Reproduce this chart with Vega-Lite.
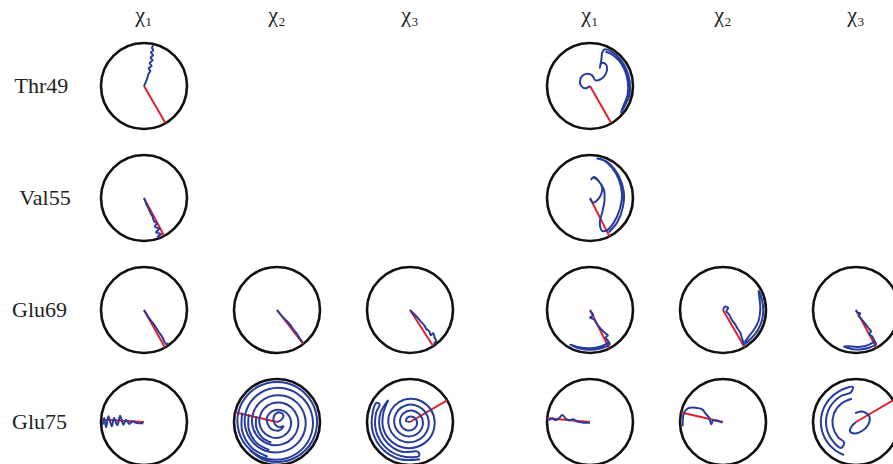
{
"$schema":"https://vega.github.io/schema/vega-lite/v6.json",
"padding":{"left":12,"top":4,"right":0,"bottom":0},
"background":"white",
"config":{"view":{"stroke":null},"header":{"labelFont":"Liberation Serif","labelFontSize":22,"labelColor":"#222"}},
"data":{"values":[
{"sim":"A","res":"Thr49","chi":"χ₁","kind":"ring"},
{"sim":"A","res":"Thr49","chi":"χ₂","kind":"none"},
{"sim":"A","res":"Thr49","chi":"χ₃","kind":"none"},
{"sim":"A","res":"Val55","chi":"χ₂","kind":"none"},
{"sim":"A","res":"Val55","chi":"χ₃","kind":"none"},
{"sim":"B","res":"Thr49","chi":"χ₂","kind":"none"},
{"sim":"B","res":"Thr49","chi":"χ₃","kind":"none"},
{"sim":"B","res":"Val55","chi":"χ₂","kind":"none"},
{"sim":"B","res":"Val55","chi":"χ₃","kind":"none"},
{"sim":"A","res":"Thr49","chi":"χ₁","kind":"ref","i":0,"x":0,"y":0},
{"sim":"A","res":"Thr49","chi":"χ₁","kind":"ref","i":1,"x":0.5,"y":-0.866},
{"sim":"A","res":"Thr49","chi":"χ₁","kind":"traj","seg":0,"i":0,"x":0,"y":0},
{"sim":"A","res":"Thr49","chi":"χ₁","kind":"traj","seg":0,"i":1,"x":0.047,"y":0.1},
{"sim":"A","res":"Thr49","chi":"χ₁","kind":"traj","seg":0,"i":2,"x":0.078,"y":0.19},
{"sim":"A","res":"Thr49","chi":"χ₁","kind":"traj","seg":0,"i":3,"x":0.109,"y":0.29},
{"sim":"A","res":"Thr49","chi":"χ₁","kind":"traj","seg":0,"i":4,"x":0.147,"y":0.35},
{"sim":"A","res":"Thr49","chi":"χ₁","kind":"traj","seg":0,"i":5,"x":0.109,"y":0.41},
{"sim":"A","res":"Thr49","chi":"χ₁","kind":"traj","seg":0,"i":6,"x":0.178,"y":0.47},
{"sim":"A","res":"Thr49","chi":"χ₁","kind":"traj","seg":0,"i":7,"x":0.132,"y":0.535},
{"sim":"A","res":"Thr49","chi":"χ₁","kind":"traj","seg":0,"i":8,"x":0.2,"y":0.6},
{"sim":"A","res":"Thr49","chi":"χ₁","kind":"traj","seg":0,"i":9,"x":0.155,"y":0.66},
{"sim":"A","res":"Thr49","chi":"χ₁","kind":"traj","seg":0,"i":10,"x":0.21,"y":0.72},
{"sim":"A","res":"Thr49","chi":"χ₁","kind":"traj","seg":0,"i":11,"x":0.163,"y":0.78},
{"sim":"A","res":"Thr49","chi":"χ₁","kind":"traj","seg":0,"i":12,"x":0.217,"y":0.84},
{"sim":"A","res":"Thr49","chi":"χ₁","kind":"traj","seg":0,"i":13,"x":0.186,"y":0.89},
{"sim":"A","res":"Thr49","chi":"χ₁","kind":"traj","seg":0,"i":14,"x":0.217,"y":0.945},

{"sim":"A","res":"Val55","chi":"χ₁","kind":"ring"},
{"sim":"A","res":"Val55","chi":"χ₁","kind":"ref","i":0,"x":0,"y":0},
{"sim":"A","res":"Val55","chi":"χ₁","kind":"ref","i":1,"x":0.47,"y":-0.88},
{"sim":"A","res":"Val55","chi":"χ₁","kind":"traj","seg":0,"i":0,"x":0,"y":0},
{"sim":"A","res":"Val55","chi":"χ₁","kind":"traj","seg":0,"i":1,"x":0.054,"y":-0.14},
{"sim":"A","res":"Val55","chi":"χ₁","kind":"traj","seg":0,"i":2,"x":0.109,"y":-0.256},
{"sim":"A","res":"Val55","chi":"χ₁","kind":"traj","seg":0,"i":3,"x":0.155,"y":-0.357},
{"sim":"A","res":"Val55","chi":"χ₁","kind":"traj","seg":0,"i":4,"x":0.2,"y":-0.434},
{"sim":"A","res":"Val55","chi":"χ₁","kind":"traj","seg":0,"i":5,"x":0.233,"y":-0.54},
{"sim":"A","res":"Val55","chi":"χ₁","kind":"traj","seg":0,"i":6,"x":0.295,"y":-0.59},
{"sim":"A","res":"Val55","chi":"χ₁","kind":"traj","seg":0,"i":7,"x":0.256,"y":-0.67},
{"sim":"A","res":"Val55","chi":"χ₁","kind":"traj","seg":0,"i":8,"x":0.357,"y":-0.72},
{"sim":"A","res":"Val55","chi":"χ₁","kind":"traj","seg":0,"i":9,"x":0.279,"y":-0.8},
{"sim":"A","res":"Val55","chi":"χ₁","kind":"traj","seg":0,"i":10,"x":0.4,"y":-0.845},
{"sim":"A","res":"Val55","chi":"χ₁","kind":"traj","seg":0,"i":11,"x":0.318,"y":-0.9},
{"sim":"A","res":"Val55","chi":"χ₁","kind":"traj","seg":0,"i":12,"x":0.37,"y":-0.9},

{"sim":"A","res":"Glu69","chi":"χ₁","kind":"ring"},
{"sim":"A","res":"Glu69","chi":"χ₁","kind":"ref","i":0,"x":0,"y":0},
{"sim":"A","res":"Glu69","chi":"χ₁","kind":"ref","i":1,"x":0.49,"y":-0.876},
{"sim":"A","res":"Glu69","chi":"χ₁","kind":"traj","seg":0,"i":0,"x":0,"y":0},
{"sim":"A","res":"Glu69","chi":"χ₁","kind":"traj","seg":0,"i":1,"x":0.14,"y":-0.217},
{"sim":"A","res":"Glu69","chi":"χ₁","kind":"traj","seg":0,"i":2,"x":0.256,"y":-0.372},
{"sim":"A","res":"Glu69","chi":"χ₁","kind":"traj","seg":0,"i":3,"x":0.333,"y":-0.496},
{"sim":"A","res":"Glu69","chi":"χ₁","kind":"traj","seg":0,"i":4,"x":0.388,"y":-0.574},
{"sim":"A","res":"Glu69","chi":"χ₁","kind":"traj","seg":0,"i":5,"x":0.434,"y":-0.643},
{"sim":"A","res":"Glu69","chi":"χ₁","kind":"traj","seg":0,"i":6,"x":0.48,"y":-0.744},
{"sim":"A","res":"Glu69","chi":"χ₁","kind":"traj","seg":0,"i":7,"x":0.527,"y":-0.798},
{"sim":"A","res":"Glu69","chi":"χ₁","kind":"traj","seg":0,"i":8,"x":0.574,"y":-0.775},

{"sim":"A","res":"Glu69","chi":"χ₂","kind":"ring"},
{"sim":"A","res":"Glu69","chi":"χ₂","kind":"ref","i":0,"x":0,"y":0},
{"sim":"A","res":"Glu69","chi":"χ₂","kind":"ref","i":1,"x":0.61,"y":-0.79},
{"sim":"A","res":"Glu69","chi":"χ₂","kind":"traj","seg":0,"i":0,"x":0,"y":0},
{"sim":"A","res":"Glu69","chi":"χ₂","kind":"traj","seg":0,"i":1,"x":0.147,"y":-0.178},
{"sim":"A","res":"Glu69","chi":"χ₂","kind":"traj","seg":0,"i":2,"x":0.302,"y":-0.333},
{"sim":"A","res":"Glu69","chi":"χ₂","kind":"traj","seg":0,"i":3,"x":0.38,"y":-0.45},
{"sim":"A","res":"Glu69","chi":"χ₂","kind":"traj","seg":0,"i":4,"x":0.473,"y":-0.566},
{"sim":"A","res":"Glu69","chi":"χ₂","kind":"traj","seg":0,"i":5,"x":0.535,"y":-0.667},
{"sim":"A","res":"Glu69","chi":"χ₂","kind":"traj","seg":0,"i":6,"x":0.59,"y":-0.75},

{"sim":"A","res":"Glu69","chi":"χ₃","kind":"ring"},
{"sim":"A","res":"Glu69","chi":"χ₃","kind":"ref","i":0,"x":0,"y":0},
{"sim":"A","res":"Glu69","chi":"χ₃","kind":"ref","i":1,"x":0.54,"y":-0.84},
{"sim":"A","res":"Glu69","chi":"χ₃","kind":"traj","seg":0,"i":0,"x":0,"y":0},
{"sim":"A","res":"Glu69","chi":"χ₃","kind":"traj","seg":0,"i":1,"x":0.14,"y":-0.14},
{"sim":"A","res":"Glu69","chi":"χ₃","kind":"traj","seg":0,"i":2,"x":0.248,"y":-0.264},
{"sim":"A","res":"Glu69","chi":"χ₃","kind":"traj","seg":0,"i":3,"x":0.333,"y":-0.357},
{"sim":"A","res":"Glu69","chi":"χ₃","kind":"traj","seg":0,"i":4,"x":0.388,"y":-0.45},
{"sim":"A","res":"Glu69","chi":"χ₃","kind":"traj","seg":0,"i":5,"x":0.45,"y":-0.496},
{"sim":"A","res":"Glu69","chi":"χ₃","kind":"traj","seg":0,"i":6,"x":0.48,"y":-0.59},
{"sim":"A","res":"Glu69","chi":"χ₃","kind":"traj","seg":0,"i":7,"x":0.543,"y":-0.543},
{"sim":"A","res":"Glu69","chi":"χ₃","kind":"traj","seg":0,"i":8,"x":0.574,"y":-0.643},
{"sim":"A","res":"Glu69","chi":"χ₃","kind":"traj","seg":0,"i":9,"x":0.61,"y":-0.72},
{"sim":"A","res":"Glu69","chi":"χ₃","kind":"traj","seg":0,"i":10,"x":0.55,"y":-0.78},

{"sim":"A","res":"Glu75","chi":"χ₁","kind":"ring"},
{"sim":"A","res":"Glu75","chi":"χ₁","kind":"ref","i":0,"x":0,"y":0},
{"sim":"A","res":"Glu75","chi":"χ₁","kind":"ref","i":1,"x":-0.985,"y":0.06},
{"sim":"A","res":"Glu75","chi":"χ₁","kind":"traj","seg":0,"i":0,"x":-0.016,"y":-0.031},
{"sim":"A","res":"Glu75","chi":"χ₁","kind":"traj","seg":0,"i":1,"x":-0.17,"y":-0.023},
{"sim":"A","res":"Glu75","chi":"χ₁","kind":"traj","seg":0,"i":2,"x":-0.264,"y":0.016},
{"sim":"A","res":"Glu75","chi":"χ₁","kind":"traj","seg":0,"i":3,"x":-0.341,"y":-0.047},
{"sim":"A","res":"Glu75","chi":"χ₁","kind":"traj","seg":0,"i":4,"x":-0.419,"y":0.054},
{"sim":"A","res":"Glu75","chi":"χ₁","kind":"traj","seg":0,"i":5,"x":-0.48,"y":-0.062},
{"sim":"A","res":"Glu75","chi":"χ₁","kind":"traj","seg":0,"i":6,"x":-0.558,"y":0.147},
{"sim":"A","res":"Glu75","chi":"χ₁","kind":"traj","seg":0,"i":7,"x":-0.62,"y":-0.078},
{"sim":"A","res":"Glu75","chi":"χ₁","kind":"traj","seg":0,"i":8,"x":-0.698,"y":0.093},
{"sim":"A","res":"Glu75","chi":"χ₁","kind":"traj","seg":0,"i":9,"x":-0.752,"y":-0.1},
{"sim":"A","res":"Glu75","chi":"χ₁","kind":"traj","seg":0,"i":10,"x":-0.83,"y":0.132},
{"sim":"A","res":"Glu75","chi":"χ₁","kind":"traj","seg":0,"i":11,"x":-0.884,"y":-0.124},
{"sim":"A","res":"Glu75","chi":"χ₁","kind":"traj","seg":0,"i":12,"x":-0.93,"y":0.093},
{"sim":"A","res":"Glu75","chi":"χ₁","kind":"traj","seg":0,"i":13,"x":-0.96,"y":-0.062},

{"sim":"A","res":"Glu75","chi":"χ₂","kind":"ring"},
{"sim":"A","res":"Glu75","chi":"χ₂","kind":"ref","i":0,"x":0,"y":0},
{"sim":"A","res":"Glu75","chi":"χ₂","kind":"ref","i":1,"x":-0.974,"y":0.225},
{"sim":"A","res":"Glu75","chi":"χ₂","kind":"traj","seg":0,"i":0,"x":0,"y":0},
{"sim":"A","res":"Glu75","chi":"χ₂","kind":"traj","seg":0,"i":1,"x":0.1,"y":0.05},
{"sim":"A","res":"Glu75","chi":"χ₂","kind":"traj","seg":0,"i":2,"x":0.15,"y":0.15},
{"sim":"A","res":"Glu75","chi":"χ₂","kind":"traj","seg":0,"i":3,"x":0.08,"y":0.22},
{"sim":"A","res":"Glu75","chi":"χ₂","kind":"traj","seg":0,"i":4,"x":-0.02,"y":0.2},
{"sim":"A","res":"Glu75","chi":"χ₂","kind":"traj","seg":0,"i":5,"x":-0.08,"y":0.1},
{"sim":"A","res":"Glu75","chi":"χ₂","kind":"traj","seg":0,"i":6,"x":-0.05,"y":-0.05},
{"sim":"A","res":"Glu75","chi":"χ₂","kind":"traj","seg":0,"i":7,"x":0.05,"y":-0.12},
{"sim":"A","res":"Glu75","chi":"χ₂","kind":"traj","seg":0,"i":8,"x":0.15,"y":-0.1},
{"sim":"A","res":"Glu75","chi":"χ₂","kind":"traj","seg":0,"i":9,"x":0.05,"y":-0.2},
{"sim":"A","res":"Glu75","chi":"χ₂","kind":"traj","seg":0,"i":10,"x":-0.15,"y":-0.15},
{"sim":"A","res":"Glu75","chi":"χ₂","kind":"traj","seg":0,"i":11,"x":-0.242,"y":0.065},
{"sim":"A","res":"Glu75","chi":"χ₂","kind":"traj","seg":0,"i":12,"x":-0.187,"y":0.187},
{"sim":"A","res":"Glu75","chi":"χ₂","kind":"traj","seg":0,"i":13,"x":-0.072,"y":0.269},
{"sim":"A","res":"Glu75","chi":"χ₂","kind":"traj","seg":0,"i":14,"x":0.076,"y":0.283},
{"sim":"A","res":"Glu75","chi":"χ₂","kind":"traj","seg":0,"i":15,"x":0.217,"y":0.217},
{"sim":"A","res":"Glu75","chi":"χ₂","kind":"traj","seg":0,"i":16,"x":0.31,"y":0.083},
{"sim":"A","res":"Glu75","chi":"χ₂","kind":"traj","seg":0,"i":17,"x":0.324,"y":-0.087},
{"sim":"A","res":"Glu75","chi":"χ₂","kind":"traj","seg":0,"i":18,"x":0.247,"y":-0.247},
{"sim":"A","res":"Glu75","chi":"χ₂","kind":"traj","seg":0,"i":19,"x":0.094,"y":-0.352},
{"sim":"A","res":"Glu75","chi":"χ₂","kind":"traj","seg":0,"i":20,"x":-0.098,"y":-0.365},
{"sim":"A","res":"Glu75","chi":"χ₂","kind":"traj","seg":0,"i":21,"x":-0.277,"y":-0.277},
{"sim":"A","res":"Glu75","chi":"χ₂","kind":"traj","seg":0,"i":22,"x":-0.392,"y":-0.105},
{"sim":"A","res":"Glu75","chi":"χ₂","kind":"traj","seg":0,"i":23,"x":-0.406,"y":0.109},
{"sim":"A","res":"Glu75","chi":"χ₂","kind":"traj","seg":0,"i":24,"x":-0.308,"y":0.308},
{"sim":"A","res":"Glu75","chi":"χ₂","kind":"traj","seg":0,"i":25,"x":-0.116,"y":0.434},
{"sim":"A","res":"Glu75","chi":"χ₂","kind":"traj","seg":0,"i":26,"x":0.12,"y":0.447},
{"sim":"A","res":"Glu75","chi":"χ₂","kind":"traj","seg":0,"i":27,"x":0.337,"y":0.337},
{"sim":"A","res":"Glu75","chi":"χ₂","kind":"traj","seg":0,"i":28,"x":0.474,"y":0.127},
{"sim":"A","res":"Glu75","chi":"χ₂","kind":"traj","seg":0,"i":29,"x":0.489,"y":-0.131},
{"sim":"A","res":"Glu75","chi":"χ₂","kind":"traj","seg":0,"i":30,"x":0.368,"y":-0.368},
{"sim":"A","res":"Glu75","chi":"χ₂","kind":"traj","seg":0,"i":31,"x":0.138,"y":-0.516},
{"sim":"A","res":"Glu75","chi":"χ₂","kind":"traj","seg":0,"i":32,"x":-0.142,"y":-0.529},
{"sim":"A","res":"Glu75","chi":"χ₂","kind":"traj","seg":0,"i":33,"x":-0.397,"y":-0.397},
{"sim":"A","res":"Glu75","chi":"χ₂","kind":"traj","seg":0,"i":34,"x":-0.557,"y":-0.149},
{"sim":"A","res":"Glu75","chi":"χ₂","kind":"traj","seg":0,"i":35,"x":-0.571,"y":0.153},
{"sim":"A","res":"Glu75","chi":"χ₂","kind":"traj","seg":0,"i":36,"x":-0.428,"y":0.428},
{"sim":"A","res":"Glu75","chi":"χ₂","kind":"traj","seg":0,"i":37,"x":-0.16,"y":0.598},
{"sim":"A","res":"Glu75","chi":"χ₂","kind":"traj","seg":0,"i":38,"x":0.164,"y":0.611},
{"sim":"A","res":"Glu75","chi":"χ₂","kind":"traj","seg":0,"i":39,"x":0.458,"y":0.458},
{"sim":"A","res":"Glu75","chi":"χ₂","kind":"traj","seg":0,"i":40,"x":0.639,"y":0.171},
{"sim":"A","res":"Glu75","chi":"χ₂","kind":"traj","seg":0,"i":41,"x":0.653,"y":-0.175},
{"sim":"A","res":"Glu75","chi":"χ₂","kind":"traj","seg":0,"i":42,"x":0.488,"y":-0.488},
{"sim":"A","res":"Glu75","chi":"χ₂","kind":"traj","seg":0,"i":43,"x":0.182,"y":-0.68},
{"sim":"A","res":"Glu75","chi":"χ₂","kind":"traj","seg":0,"i":44,"x":-0.186,"y":-0.695},
{"sim":"A","res":"Glu75","chi":"χ₂","kind":"traj","seg":0,"i":45,"x":-0.518,"y":-0.518},
{"sim":"A","res":"Glu75","chi":"χ₂","kind":"traj","seg":0,"i":46,"x":-0.722,"y":-0.193},
{"sim":"A","res":"Glu75","chi":"χ₂","kind":"traj","seg":0,"i":47,"x":-0.735,"y":0.197},
{"sim":"A","res":"Glu75","chi":"χ₂","kind":"traj","seg":0,"i":48,"x":-0.548,"y":0.548},
{"sim":"A","res":"Glu75","chi":"χ₂","kind":"traj","seg":0,"i":49,"x":-0.205,"y":0.763},
{"sim":"A","res":"Glu75","chi":"χ₂","kind":"traj","seg":0,"i":50,"x":0.208,"y":0.777},
{"sim":"A","res":"Glu75","chi":"χ₂","kind":"traj","seg":0,"i":51,"x":0.578,"y":0.578},
{"sim":"A","res":"Glu75","chi":"χ₂","kind":"traj","seg":0,"i":52,"x":0.804,"y":0.215},
{"sim":"A","res":"Glu75","chi":"χ₂","kind":"traj","seg":0,"i":53,"x":0.817,"y":-0.219},
{"sim":"A","res":"Glu75","chi":"χ₂","kind":"traj","seg":0,"i":54,"x":0.609,"y":-0.609},
{"sim":"A","res":"Glu75","chi":"χ₂","kind":"traj","seg":0,"i":55,"x":0.227,"y":-0.845},
{"sim":"A","res":"Glu75","chi":"χ₂","kind":"traj","seg":0,"i":56,"x":-0.23,"y":-0.859},
{"sim":"A","res":"Glu75","chi":"χ₂","kind":"traj","seg":0,"i":57,"x":-0.638,"y":-0.638},
{"sim":"A","res":"Glu75","chi":"χ₂","kind":"traj","seg":0,"i":58,"x":-0.886,"y":-0.238},
{"sim":"A","res":"Glu75","chi":"χ₂","kind":"traj","seg":0,"i":59,"x":-0.898,"y":0.241},
{"sim":"A","res":"Glu75","chi":"χ₂","kind":"traj","seg":0,"i":60,"x":-0.66,"y":0.66},
{"sim":"A","res":"Glu75","chi":"χ₂","kind":"traj","seg":0,"i":61,"x":-0.242,"y":0.903},
{"sim":"A","res":"Glu75","chi":"χ₂","kind":"traj","seg":0,"i":62,"x":0.242,"y":0.903},
{"sim":"A","res":"Glu75","chi":"χ₂","kind":"traj","seg":0,"i":63,"x":0.661,"y":0.661},
{"sim":"A","res":"Glu75","chi":"χ₂","kind":"traj","seg":0,"i":64,"x":0.903,"y":0.242},
{"sim":"A","res":"Glu75","chi":"χ₂","kind":"traj","seg":0,"i":65,"x":0.903,"y":-0.242},
{"sim":"A","res":"Glu75","chi":"χ₂","kind":"traj","seg":0,"i":66,"x":0.661,"y":-0.661},
{"sim":"A","res":"Glu75","chi":"χ₂","kind":"traj","seg":0,"i":67,"x":0.242,"y":-0.903},
{"sim":"A","res":"Glu75","chi":"χ₂","kind":"traj","seg":0,"i":68,"x":-0.242,"y":-0.903},
{"sim":"A","res":"Glu75","chi":"χ₂","kind":"traj","seg":0,"i":69,"x":-0.64,"y":-0.66},
{"sim":"A","res":"Glu75","chi":"χ₂","kind":"traj","seg":1,"i":0,"x":-0.483,"y":0.13},
{"sim":"A","res":"Glu75","chi":"χ₂","kind":"traj","seg":1,"i":1,"x":-0.483,"y":-0.13},
{"sim":"A","res":"Glu75","chi":"χ₂","kind":"traj","seg":1,"i":2,"x":-0.354,"y":-0.354},
{"sim":"A","res":"Glu75","chi":"χ₂","kind":"traj","seg":1,"i":3,"x":-0.13,"y":-0.483},
{"sim":"A","res":"Glu75","chi":"χ₂","kind":"traj","seg":2,"i":0,"x":-0.657,"y":0.176},
{"sim":"A","res":"Glu75","chi":"χ₂","kind":"traj","seg":2,"i":1,"x":-0.657,"y":-0.176},
{"sim":"A","res":"Glu75","chi":"χ₂","kind":"traj","seg":2,"i":2,"x":-0.481,"y":-0.481},
{"sim":"A","res":"Glu75","chi":"χ₂","kind":"traj","seg":2,"i":3,"x":-0.176,"y":-0.657},
{"sim":"A","res":"Glu75","chi":"χ₂","kind":"traj","seg":3,"i":0,"x":-0.811,"y":0.217},
{"sim":"A","res":"Glu75","chi":"χ₂","kind":"traj","seg":3,"i":1,"x":-0.811,"y":-0.217},
{"sim":"A","res":"Glu75","chi":"χ₂","kind":"traj","seg":3,"i":2,"x":-0.594,"y":-0.594},
{"sim":"A","res":"Glu75","chi":"χ₂","kind":"traj","seg":3,"i":3,"x":-0.217,"y":-0.811},

{"sim":"A","res":"Glu75","chi":"χ₃","kind":"ring"},
{"sim":"A","res":"Glu75","chi":"χ₃","kind":"ref","i":0,"x":0,"y":0},
{"sim":"A","res":"Glu75","chi":"χ₃","kind":"ref","i":1,"x":0.864,"y":0.503},
{"sim":"A","res":"Glu75","chi":"χ₃","kind":"traj","seg":0,"i":0,"x":0,"y":0},
{"sim":"A","res":"Glu75","chi":"χ₃","kind":"traj","seg":0,"i":1,"x":-0.097,"y":0.026},
{"sim":"A","res":"Glu75","chi":"χ₃","kind":"traj","seg":0,"i":2,"x":-0.079,"y":0.079},
{"sim":"A","res":"Glu75","chi":"χ₃","kind":"traj","seg":0,"i":3,"x":-0.032,"y":0.119},
{"sim":"A","res":"Glu75","chi":"χ₃","kind":"traj","seg":0,"i":4,"x":0.035,"y":0.13},
{"sim":"A","res":"Glu75","chi":"χ₃","kind":"traj","seg":0,"i":5,"x":0.103,"y":0.103},
{"sim":"A","res":"Glu75","chi":"χ₃","kind":"traj","seg":0,"i":6,"x":0.153,"y":0.041},
{"sim":"A","res":"Glu75","chi":"χ₃","kind":"traj","seg":0,"i":7,"x":0.163,"y":-0.044},
{"sim":"A","res":"Glu75","chi":"χ₃","kind":"traj","seg":0,"i":8,"x":0.128,"y":-0.128},
{"sim":"A","res":"Glu75","chi":"χ₃","kind":"traj","seg":0,"i":9,"x":0.05,"y":-0.185},
{"sim":"A","res":"Glu75","chi":"χ₃","kind":"traj","seg":0,"i":10,"x":-0.053,"y":-0.197},
{"sim":"A","res":"Glu75","chi":"χ₃","kind":"traj","seg":0,"i":11,"x":-0.152,"y":-0.152},
{"sim":"A","res":"Glu75","chi":"χ₃","kind":"traj","seg":0,"i":12,"x":-0.219,"y":-0.059},
{"sim":"A","res":"Glu75","chi":"χ₃","kind":"traj","seg":0,"i":13,"x":-0.23,"y":0.062},
{"sim":"A","res":"Glu75","chi":"χ₃","kind":"traj","seg":0,"i":14,"x":-0.177,"y":0.177},
{"sim":"A","res":"Glu75","chi":"χ₃","kind":"traj","seg":0,"i":15,"x":-0.068,"y":0.252},
{"sim":"A","res":"Glu75","chi":"χ₃","kind":"traj","seg":0,"i":16,"x":0.071,"y":0.264},
{"sim":"A","res":"Glu75","chi":"χ₃","kind":"traj","seg":0,"i":17,"x":0.201,"y":0.201},
{"sim":"A","res":"Glu75","chi":"χ₃","kind":"traj","seg":0,"i":18,"x":0.286,"y":0.077},
{"sim":"A","res":"Glu75","chi":"χ₃","kind":"traj","seg":0,"i":19,"x":0.297,"y":-0.08},
{"sim":"A","res":"Glu75","chi":"χ₃","kind":"traj","seg":0,"i":20,"x":0.226,"y":-0.226},
{"sim":"A","res":"Glu75","chi":"χ₃","kind":"traj","seg":0,"i":21,"x":0.085,"y":-0.319},
{"sim":"A","res":"Glu75","chi":"χ₃","kind":"traj","seg":0,"i":22,"x":-0.089,"y":-0.33},
{"sim":"A","res":"Glu75","chi":"χ₃","kind":"traj","seg":0,"i":23,"x":-0.25,"y":-0.25},
{"sim":"A","res":"Glu75","chi":"χ₃","kind":"traj","seg":0,"i":24,"x":-0.353,"y":-0.095},
{"sim":"A","res":"Glu75","chi":"χ₃","kind":"traj","seg":0,"i":25,"x":-0.363,"y":0.097},
{"sim":"A","res":"Glu75","chi":"χ₃","kind":"traj","seg":0,"i":26,"x":-0.274,"y":0.274},
{"sim":"A","res":"Glu75","chi":"χ₃","kind":"traj","seg":0,"i":27,"x":-0.103,"y":0.385},
{"sim":"A","res":"Glu75","chi":"χ₃","kind":"traj","seg":0,"i":28,"x":0.106,"y":0.397},
{"sim":"A","res":"Glu75","chi":"χ₃","kind":"traj","seg":0,"i":29,"x":0.298,"y":0.298},
{"sim":"A","res":"Glu75","chi":"χ₃","kind":"traj","seg":0,"i":30,"x":0.419,"y":0.112},
{"sim":"A","res":"Glu75","chi":"χ₃","kind":"traj","seg":0,"i":31,"x":0.43,"y":-0.115},
{"sim":"A","res":"Glu75","chi":"χ₃","kind":"traj","seg":0,"i":32,"x":0.323,"y":-0.323},
{"sim":"A","res":"Glu75","chi":"χ₃","kind":"traj","seg":0,"i":33,"x":0.121,"y":-0.452},
{"sim":"A","res":"Glu75","chi":"χ₃","kind":"traj","seg":0,"i":34,"x":-0.124,"y":-0.464},
{"sim":"A","res":"Glu75","chi":"χ₃","kind":"traj","seg":0,"i":35,"x":-0.347,"y":-0.347},
{"sim":"A","res":"Glu75","chi":"χ₃","kind":"traj","seg":0,"i":36,"x":-0.486,"y":-0.13},
{"sim":"A","res":"Glu75","chi":"χ₃","kind":"traj","seg":0,"i":37,"x":-0.497,"y":0.133},
{"sim":"A","res":"Glu75","chi":"χ₃","kind":"traj","seg":0,"i":38,"x":-0.372,"y":0.372},
{"sim":"A","res":"Glu75","chi":"χ₃","kind":"traj","seg":0,"i":39,"x":-0.139,"y":0.519},
{"sim":"A","res":"Glu75","chi":"χ₃","kind":"traj","seg":0,"i":40,"x":0.142,"y":0.53},
{"sim":"A","res":"Glu75","chi":"χ₃","kind":"traj","seg":0,"i":41,"x":0.396,"y":0.396},
{"sim":"A","res":"Glu75","chi":"χ₃","kind":"traj","seg":0,"i":42,"x":0.553,"y":0.148},
{"sim":"A","res":"Glu75","chi":"χ₃","kind":"traj","seg":0,"i":43,"x":0.563,"y":-0.151},
{"sim":"A","res":"Glu75","chi":"χ₃","kind":"traj","seg":0,"i":44,"x":0.421,"y":-0.421},
{"sim":"A","res":"Glu75","chi":"χ₃","kind":"traj","seg":0,"i":45,"x":0.157,"y":-0.585},
{"sim":"A","res":"Glu75","chi":"χ₃","kind":"traj","seg":0,"i":46,"x":-0.16,"y":-0.597},
{"sim":"A","res":"Glu75","chi":"χ₃","kind":"traj","seg":0,"i":47,"x":-0.445,"y":-0.445},
{"sim":"A","res":"Glu75","chi":"χ₃","kind":"traj","seg":0,"i":48,"x":-0.619,"y":-0.166},
{"sim":"A","res":"Glu75","chi":"χ₃","kind":"traj","seg":0,"i":49,"x":-0.63,"y":0.169},
{"sim":"A","res":"Glu75","chi":"χ₃","kind":"traj","seg":0,"i":50,"x":-0.509,"y":0.509},
{"sim":"A","res":"Glu75","chi":"χ₃","kind":"traj","seg":1,"i":0,"x":-0.509,"y":0.509},
{"sim":"A","res":"Glu75","chi":"χ₃","kind":"traj","seg":1,"i":1,"x":-0.696,"y":0.186},
{"sim":"A","res":"Glu75","chi":"χ₃","kind":"traj","seg":1,"i":2,"x":-0.696,"y":-0.186},
{"sim":"A","res":"Glu75","chi":"χ₃","kind":"traj","seg":1,"i":3,"x":-0.509,"y":-0.509},
{"sim":"A","res":"Glu75","chi":"χ₃","kind":"traj","seg":1,"i":4,"x":-0.186,"y":-0.696},
{"sim":"A","res":"Glu75","chi":"χ₃","kind":"traj","seg":1,"i":5,"x":0.186,"y":-0.696},
{"sim":"A","res":"Glu75","chi":"χ₃","kind":"traj","seg":1,"i":6,"x":0.212,"y":-0.792},
{"sim":"A","res":"Glu75","chi":"χ₃","kind":"traj","seg":1,"i":7,"x":-0.212,"y":-0.792},
{"sim":"A","res":"Glu75","chi":"χ₃","kind":"traj","seg":1,"i":8,"x":-0.58,"y":-0.58},
{"sim":"A","res":"Glu75","chi":"χ₃","kind":"traj","seg":1,"i":9,"x":-0.792,"y":-0.212},
{"sim":"A","res":"Glu75","chi":"χ₃","kind":"traj","seg":1,"i":10,"x":-0.792,"y":0.212},
{"sim":"A","res":"Glu75","chi":"χ₃","kind":"traj","seg":1,"i":11,"x":-0.71,"y":0.41},
{"sim":"A","res":"Glu75","chi":"χ₃","kind":"traj","seg":1,"i":12,"x":-0.779,"y":0.45},
{"sim":"A","res":"Glu75","chi":"χ₃","kind":"traj","seg":1,"i":13,"x":-0.869,"y":0.233},
{"sim":"A","res":"Glu75","chi":"χ₃","kind":"traj","seg":1,"i":14,"x":-0.869,"y":-0.233},
{"sim":"A","res":"Glu75","chi":"χ₃","kind":"traj","seg":1,"i":15,"x":-0.636,"y":-0.636},
{"sim":"A","res":"Glu75","chi":"χ₃","kind":"traj","seg":1,"i":16,"x":-0.233,"y":-0.869},
{"sim":"A","res":"Glu75","chi":"χ₃","kind":"traj","seg":1,"i":17,"x":0.233,"y":-0.869},

{"sim":"B","res":"Thr49","chi":"χ₁","kind":"ring"},
{"sim":"B","res":"Thr49","chi":"χ₁","kind":"ref","i":0,"x":0,"y":0},
{"sim":"B","res":"Thr49","chi":"χ₁","kind":"ref","i":1,"x":0.49,"y":-0.86},
{"sim":"B","res":"Thr49","chi":"χ₁","kind":"traj","seg":0,"i":0,"x":0,"y":0},
{"sim":"B","res":"Thr49","chi":"χ₁","kind":"traj","seg":0,"i":1,"x":-0.105,"y":-0.054},
{"sim":"B","res":"Thr49","chi":"χ₁","kind":"traj","seg":0,"i":2,"x":-0.205,"y":0},
{"sim":"B","res":"Thr49","chi":"χ₁","kind":"traj","seg":0,"i":3,"x":-0.236,"y":0.116},
{"sim":"B","res":"Thr49","chi":"χ₁","kind":"traj","seg":0,"i":4,"x":-0.182,"y":0.233},
{"sim":"B","res":"Thr49","chi":"χ₁","kind":"traj","seg":0,"i":5,"x":-0.066,"y":0.287},
{"sim":"B","res":"Thr49","chi":"χ₁","kind":"traj","seg":0,"i":6,"x":0.05,"y":0.248},
{"sim":"B","res":"Thr49","chi":"χ₁","kind":"traj","seg":0,"i":7,"x":0.128,"y":0.132},
{"sim":"B","res":"Thr49","chi":"χ₁","kind":"traj","seg":0,"i":8,"x":0.244,"y":0.155},
{"sim":"B","res":"Thr49","chi":"χ₁","kind":"traj","seg":0,"i":9,"x":0.36,"y":0.271},
{"sim":"B","res":"Thr49","chi":"χ₁","kind":"traj","seg":0,"i":10,"x":0.399,"y":0.426},
{"sim":"B","res":"Thr49","chi":"χ₁","kind":"traj","seg":0,"i":11,"x":0.345,"y":0.527},
{"sim":"B","res":"Thr49","chi":"χ₁","kind":"traj","seg":0,"i":12,"x":0.26,"y":0.527},
{"sim":"B","res":"Thr49","chi":"χ₁","kind":"traj","seg":0,"i":13,"x":0.229,"y":0.426},
{"sim":"B","res":"Thr49","chi":"χ₁","kind":"traj","seg":0,"i":14,"x":0.267,"y":0.62},
{"sim":"B","res":"Thr49","chi":"χ₁","kind":"traj","seg":0,"i":15,"x":0.283,"y":0.775},
{"sim":"B","res":"Thr49","chi":"χ₁","kind":"traj","seg":0,"i":16,"x":0.337,"y":0.853},
{"sim":"B","res":"Thr49","chi":"χ₁","kind":"traj","seg":0,"i":17,"x":0.516,"y":0.798},
{"sim":"B","res":"Thr49","chi":"χ₁","kind":"traj","seg":0,"i":18,"x":0.709,"y":0.62},
{"sim":"B","res":"Thr49","chi":"χ₁","kind":"traj","seg":0,"i":19,"x":0.849,"y":0.388},
{"sim":"B","res":"Thr49","chi":"χ₁","kind":"traj","seg":0,"i":20,"x":0.926,"y":0.116},
{"sim":"B","res":"Thr49","chi":"χ₁","kind":"traj","seg":0,"i":21,"x":0.926,"y":-0.194},
{"sim":"B","res":"Thr49","chi":"χ₁","kind":"traj","seg":0,"i":22,"x":0.82,"y":-0.45},
{"sim":"B","res":"Thr49","chi":"χ₁","kind":"traj","seg":0,"i":23,"x":0.72,"y":-0.62},
{"sim":"B","res":"Thr49","chi":"χ₁","kind":"traj","seg":0,"i":24,"x":0.79,"y":-0.44},
{"sim":"B","res":"Thr49","chi":"χ₁","kind":"traj","seg":0,"i":25,"x":0.88,"y":-0.194},
{"sim":"B","res":"Thr49","chi":"χ₁","kind":"traj","seg":0,"i":26,"x":0.88,"y":0.116},
{"sim":"B","res":"Thr49","chi":"χ₁","kind":"traj","seg":0,"i":27,"x":0.802,"y":0.388},
{"sim":"B","res":"Thr49","chi":"χ₁","kind":"traj","seg":0,"i":28,"x":0.671,"y":0.597},
{"sim":"B","res":"Thr49","chi":"χ₁","kind":"traj","seg":0,"i":29,"x":0.492,"y":0.752},
{"sim":"B","res":"Thr49","chi":"χ₁","kind":"traj","seg":0,"i":30,"x":0.36,"y":0.798},

{"sim":"B","res":"Val55","chi":"χ₁","kind":"ring"},
{"sim":"B","res":"Val55","chi":"χ₁","kind":"ref","i":0,"x":0,"y":0},
{"sim":"B","res":"Val55","chi":"χ₁","kind":"ref","i":1,"x":0.45,"y":-0.89},
{"sim":"B","res":"Val55","chi":"χ₁","kind":"traj","seg":0,"i":0,"x":0,"y":-0.008},
{"sim":"B","res":"Val55","chi":"χ₁","kind":"traj","seg":0,"i":1,"x":0.074,"y":-0.109},
{"sim":"B","res":"Val55","chi":"χ₁","kind":"traj","seg":0,"i":2,"x":0.167,"y":-0.054},
{"sim":"B","res":"Val55","chi":"χ₁","kind":"traj","seg":0,"i":3,"x":0.26,"y":0.085},
{"sim":"B","res":"Val55","chi":"χ₁","kind":"traj","seg":0,"i":4,"x":0.283,"y":0.24},
{"sim":"B","res":"Val55","chi":"χ₁","kind":"traj","seg":0,"i":5,"x":0.205,"y":0.395},
{"sim":"B","res":"Val55","chi":"χ₁","kind":"traj","seg":0,"i":6,"x":0.089,"y":0.488},
{"sim":"B","res":"Val55","chi":"χ₁","kind":"traj","seg":0,"i":7,"x":0.027,"y":0.434},
{"sim":"B","res":"Val55","chi":"χ₁","kind":"traj","seg":0,"i":8,"x":0.074,"y":0.473},
{"sim":"B","res":"Val55","chi":"χ₁","kind":"traj","seg":0,"i":9,"x":0.182,"y":0.411},
{"sim":"B","res":"Val55","chi":"χ₁","kind":"traj","seg":0,"i":10,"x":0.322,"y":0.202},
{"sim":"B","res":"Val55","chi":"χ₁","kind":"traj","seg":0,"i":11,"x":0.337,"y":-0.07},
{"sim":"B","res":"Val55","chi":"χ₁","kind":"traj","seg":0,"i":12,"x":0.283,"y":-0.341},
{"sim":"B","res":"Val55","chi":"χ₁","kind":"traj","seg":0,"i":13,"x":0.229,"y":-0.574},
{"sim":"B","res":"Val55","chi":"χ₁","kind":"traj","seg":0,"i":14,"x":0.283,"y":-0.767},
{"sim":"B","res":"Val55","chi":"χ₁","kind":"traj","seg":0,"i":15,"x":0.399,"y":-0.752},
{"sim":"B","res":"Val55","chi":"χ₁","kind":"traj","seg":0,"i":16,"x":0.554,"y":-0.574},
{"sim":"B","res":"Val55","chi":"χ₁","kind":"traj","seg":0,"i":17,"x":0.694,"y":-0.264},
{"sim":"B","res":"Val55","chi":"χ₁","kind":"traj","seg":0,"i":18,"x":0.748,"y":0.085},
{"sim":"B","res":"Val55","chi":"χ₁","kind":"traj","seg":0,"i":19,"x":0.671,"y":0.434},
{"sim":"B","res":"Val55","chi":"χ₁","kind":"traj","seg":0,"i":20,"x":0.516,"y":0.705},
{"sim":"B","res":"Val55","chi":"χ₁","kind":"traj","seg":0,"i":21,"x":0.322,"y":0.876},
{"sim":"B","res":"Val55","chi":"χ₁","kind":"traj","seg":0,"i":22,"x":0.167,"y":0.92},
{"sim":"B","res":"Val55","chi":"χ₁","kind":"traj","seg":0,"i":23,"x":0.283,"y":0.9},
{"sim":"B","res":"Val55","chi":"χ₁","kind":"traj","seg":0,"i":24,"x":0.477,"y":0.783},
{"sim":"B","res":"Val55","chi":"χ₁","kind":"traj","seg":0,"i":25,"x":0.671,"y":0.512},
{"sim":"B","res":"Val55","chi":"χ₁","kind":"traj","seg":0,"i":26,"x":0.787,"y":0.163},
{"sim":"B","res":"Val55","chi":"χ₁","kind":"traj","seg":0,"i":27,"x":0.764,"y":-0.225},
{"sim":"B","res":"Val55","chi":"χ₁","kind":"traj","seg":0,"i":28,"x":0.632,"y":-0.574},
{"sim":"B","res":"Val55","chi":"χ₁","kind":"traj","seg":0,"i":29,"x":0.438,"y":-0.806},

{"sim":"B","res":"Glu69","chi":"χ₁","kind":"ring"},
{"sim":"B","res":"Glu69","chi":"χ₁","kind":"ref","i":0,"x":0,"y":0},
{"sim":"B","res":"Glu69","chi":"χ₁","kind":"ref","i":1,"x":0.447,"y":-0.894},
{"sim":"B","res":"Glu69","chi":"χ₁","kind":"traj","seg":0,"i":0,"x":0,"y":-0.008},
{"sim":"B","res":"Glu69","chi":"χ₁","kind":"traj","seg":0,"i":1,"x":0.074,"y":-0.124},
{"sim":"B","res":"Glu69","chi":"χ₁","kind":"traj","seg":0,"i":2,"x":0,"y":-0.178},
{"sim":"B","res":"Glu69","chi":"χ₁","kind":"traj","seg":0,"i":3,"x":0.089,"y":-0.217},
{"sim":"B","res":"Glu69","chi":"χ₁","kind":"traj","seg":0,"i":4,"x":0.167,"y":-0.333},
{"sim":"B","res":"Glu69","chi":"χ₁","kind":"traj","seg":0,"i":5,"x":0.26,"y":-0.45},
{"sim":"B","res":"Glu69","chi":"χ₁","kind":"traj","seg":0,"i":6,"x":0.36,"y":-0.543},
{"sim":"B","res":"Glu69","chi":"χ₁","kind":"traj","seg":0,"i":7,"x":0.415,"y":-0.589},
{"sim":"B","res":"Glu69","chi":"χ₁","kind":"traj","seg":0,"i":8,"x":0.368,"y":-0.643},
{"sim":"B","res":"Glu69","chi":"χ₁","kind":"traj","seg":0,"i":9,"x":0.438,"y":-0.744},
{"sim":"B","res":"Glu69","chi":"χ₁","kind":"traj","seg":0,"i":10,"x":0.46,"y":-0.8},
{"sim":"B","res":"Glu69","chi":"χ₁","kind":"traj","seg":0,"i":11,"x":0.24,"y":-0.9},
{"sim":"B","res":"Glu69","chi":"χ₁","kind":"traj","seg":0,"i":12,"x":0,"y":-0.93},
{"sim":"B","res":"Glu69","chi":"χ₁","kind":"traj","seg":0,"i":13,"x":-0.24,"y":-0.9},
{"sim":"B","res":"Glu69","chi":"χ₁","kind":"traj","seg":0,"i":14,"x":-0.465,"y":-0.805},
{"sim":"B","res":"Glu69","chi":"χ₁","kind":"traj","seg":0,"i":15,"x":-0.25,"y":-0.87},
{"sim":"B","res":"Glu69","chi":"χ₁","kind":"traj","seg":0,"i":16,"x":0,"y":-0.89},
{"sim":"B","res":"Glu69","chi":"χ₁","kind":"traj","seg":0,"i":17,"x":0.25,"y":-0.85},
{"sim":"B","res":"Glu69","chi":"χ₁","kind":"traj","seg":0,"i":18,"x":0.44,"y":-0.76},

{"sim":"B","res":"Glu69","chi":"χ₂","kind":"ring"},
{"sim":"B","res":"Glu69","chi":"χ₂","kind":"ref","i":0,"x":0,"y":0},
{"sim":"B","res":"Glu69","chi":"χ₂","kind":"ref","i":1,"x":0.5,"y":-0.866},
{"sim":"B","res":"Glu69","chi":"χ₂","kind":"traj","seg":0,"i":0,"x":0,"y":0},
{"sim":"B","res":"Glu69","chi":"χ₂","kind":"traj","seg":0,"i":1,"x":0.05,"y":0.08},
{"sim":"B","res":"Glu69","chi":"χ₂","kind":"traj","seg":0,"i":2,"x":0.12,"y":0.05},
{"sim":"B","res":"Glu69","chi":"χ₂","kind":"traj","seg":0,"i":3,"x":0.08,"y":-0.03},
{"sim":"B","res":"Glu69","chi":"χ₂","kind":"traj","seg":0,"i":4,"x":0.14,"y":-0.1},
{"sim":"B","res":"Glu69","chi":"χ₂","kind":"traj","seg":0,"i":5,"x":0.2,"y":-0.22},
{"sim":"B","res":"Glu69","chi":"χ₂","kind":"traj","seg":0,"i":6,"x":0.28,"y":-0.33},
{"sim":"B","res":"Glu69","chi":"χ₂","kind":"traj","seg":0,"i":7,"x":0.35,"y":-0.45},
{"sim":"B","res":"Glu69","chi":"χ₂","kind":"traj","seg":0,"i":8,"x":0.4,"y":-0.52},
{"sim":"B","res":"Glu69","chi":"χ₂","kind":"traj","seg":0,"i":9,"x":0.43,"y":-0.62},
{"sim":"B","res":"Glu69","chi":"χ₂","kind":"traj","seg":0,"i":10,"x":0.47,"y":-0.75},
{"sim":"B","res":"Glu69","chi":"χ₂","kind":"traj","seg":0,"i":11,"x":0.47,"y":-0.81},
{"sim":"B","res":"Glu69","chi":"χ₂","kind":"traj","seg":0,"i":12,"x":0.66,"y":-0.66},
{"sim":"B","res":"Glu69","chi":"χ₂","kind":"traj","seg":0,"i":13,"x":0.81,"y":-0.47},
{"sim":"B","res":"Glu69","chi":"χ₂","kind":"traj","seg":0,"i":14,"x":0.91,"y":-0.24},
{"sim":"B","res":"Glu69","chi":"χ₂","kind":"traj","seg":0,"i":15,"x":0.94,"y":0},
{"sim":"B","res":"Glu69","chi":"χ₂","kind":"traj","seg":0,"i":16,"x":0.91,"y":0.24},
{"sim":"B","res":"Glu69","chi":"χ₂","kind":"traj","seg":0,"i":17,"x":0.83,"y":0.45},
{"sim":"B","res":"Glu69","chi":"χ₂","kind":"traj","seg":0,"i":18,"x":0.86,"y":0.2},
{"sim":"B","res":"Glu69","chi":"χ₂","kind":"traj","seg":0,"i":19,"x":0.87,"y":0},
{"sim":"B","res":"Glu69","chi":"χ₂","kind":"traj","seg":0,"i":20,"x":0.83,"y":-0.25},
{"sim":"B","res":"Glu69","chi":"χ₂","kind":"traj","seg":0,"i":21,"x":0.73,"y":-0.45},
{"sim":"B","res":"Glu69","chi":"χ₂","kind":"traj","seg":0,"i":22,"x":0.6,"y":-0.62},
{"sim":"B","res":"Glu69","chi":"χ₂","kind":"traj","seg":0,"i":23,"x":0.5,"y":-0.76},

{"sim":"B","res":"Glu69","chi":"χ₃","kind":"ring"},
{"sim":"B","res":"Glu69","chi":"χ₃","kind":"ref","i":0,"x":0,"y":0},
{"sim":"B","res":"Glu69","chi":"χ₃","kind":"ref","i":1,"x":0.477,"y":-0.879},
{"sim":"B","res":"Glu69","chi":"χ₃","kind":"traj","seg":0,"i":0,"x":0,"y":0},
{"sim":"B","res":"Glu69","chi":"χ₃","kind":"traj","seg":0,"i":1,"x":0.03,"y":-0.06},
{"sim":"B","res":"Glu69","chi":"χ₃","kind":"traj","seg":0,"i":2,"x":0.1,"y":-0.08},
{"sim":"B","res":"Glu69","chi":"χ₃","kind":"traj","seg":0,"i":3,"x":0.06,"y":-0.14},
{"sim":"B","res":"Glu69","chi":"χ₃","kind":"traj","seg":0,"i":4,"x":0.12,"y":-0.2},
{"sim":"B","res":"Glu69","chi":"χ₃","kind":"traj","seg":0,"i":5,"x":0.2,"y":-0.3},
{"sim":"B","res":"Glu69","chi":"χ₃","kind":"traj","seg":0,"i":6,"x":0.29,"y":-0.42},
{"sim":"B","res":"Glu69","chi":"χ₃","kind":"traj","seg":0,"i":7,"x":0.35,"y":-0.5},
{"sim":"B","res":"Glu69","chi":"χ₃","kind":"traj","seg":0,"i":8,"x":0.31,"y":-0.56},
{"sim":"B","res":"Glu69","chi":"χ₃","kind":"traj","seg":0,"i":9,"x":0.38,"y":-0.62},
{"sim":"B","res":"Glu69","chi":"χ₃","kind":"traj","seg":0,"i":10,"x":0.44,"y":-0.74},
{"sim":"B","res":"Glu69","chi":"χ₃","kind":"traj","seg":0,"i":11,"x":0.47,"y":-0.8},
{"sim":"B","res":"Glu69","chi":"χ₃","kind":"traj","seg":0,"i":12,"x":0.3,"y":-0.88},
{"sim":"B","res":"Glu69","chi":"χ₃","kind":"traj","seg":0,"i":13,"x":0.1,"y":-0.92},
{"sim":"B","res":"Glu69","chi":"χ₃","kind":"traj","seg":0,"i":14,"x":-0.1,"y":-0.91},
{"sim":"B","res":"Glu69","chi":"χ₃","kind":"traj","seg":0,"i":15,"x":-0.28,"y":-0.85},
{"sim":"B","res":"Glu69","chi":"χ₃","kind":"traj","seg":0,"i":16,"x":-0.1,"y":-0.85},
{"sim":"B","res":"Glu69","chi":"χ₃","kind":"traj","seg":0,"i":17,"x":0.1,"y":-0.86},
{"sim":"B","res":"Glu69","chi":"χ₃","kind":"traj","seg":0,"i":18,"x":0.28,"y":-0.82},
{"sim":"B","res":"Glu69","chi":"χ₃","kind":"traj","seg":0,"i":19,"x":0.43,"y":-0.74},

{"sim":"B","res":"Glu75","chi":"χ₁","kind":"ring"},
{"sim":"B","res":"Glu75","chi":"χ₁","kind":"ref","i":0,"x":0,"y":0},
{"sim":"B","res":"Glu75","chi":"χ₁","kind":"ref","i":1,"x":-0.996,"y":0.09},
{"sim":"B","res":"Glu75","chi":"χ₁","kind":"traj","seg":0,"i":0,"x":0,"y":-0.016},
{"sim":"B","res":"Glu75","chi":"χ₁","kind":"traj","seg":0,"i":1,"x":-0.143,"y":-0.016},
{"sim":"B","res":"Glu75","chi":"χ₁","kind":"traj","seg":0,"i":2,"x":-0.298,"y":0.008},
{"sim":"B","res":"Glu75","chi":"χ₁","kind":"traj","seg":0,"i":3,"x":-0.391,"y":0.062},
{"sim":"B","res":"Glu75","chi":"χ₁","kind":"traj","seg":0,"i":4,"x":-0.492,"y":0.039},
{"sim":"B","res":"Glu75","chi":"χ₁","kind":"traj","seg":0,"i":5,"x":-0.57,"y":0.085},
{"sim":"B","res":"Glu75","chi":"χ₁","kind":"traj","seg":0,"i":6,"x":-0.647,"y":0.163},
{"sim":"B","res":"Glu75","chi":"χ₁","kind":"traj","seg":0,"i":7,"x":-0.725,"y":0.085},
{"sim":"B","res":"Glu75","chi":"χ₁","kind":"traj","seg":0,"i":8,"x":-0.802,"y":0.039},
{"sim":"B","res":"Glu75","chi":"χ₁","kind":"traj","seg":0,"i":9,"x":-0.88,"y":0.085},
{"sim":"B","res":"Glu75","chi":"χ₁","kind":"traj","seg":0,"i":10,"x":-0.957,"y":0.039},

{"sim":"B","res":"Glu75","chi":"χ₂","kind":"ring"},
{"sim":"B","res":"Glu75","chi":"χ₂","kind":"ref","i":0,"x":0,"y":0},
{"sim":"B","res":"Glu75","chi":"χ₂","kind":"ref","i":1,"x":-0.976,"y":0.22},
{"sim":"B","res":"Glu75","chi":"χ₂","kind":"traj","seg":0,"i":0,"x":-0.019,"y":-0.016},
{"sim":"B","res":"Glu75","chi":"χ₂","kind":"traj","seg":0,"i":1,"x":-0.12,"y":0.023},
{"sim":"B","res":"Glu75","chi":"χ₂","kind":"traj","seg":0,"i":2,"x":-0.229,"y":0.039},
{"sim":"B","res":"Glu75","chi":"χ₂","kind":"traj","seg":0,"i":3,"x":-0.275,"y":-0.054},
{"sim":"B","res":"Glu75","chi":"χ₂","kind":"traj","seg":0,"i":4,"x":-0.322,"y":0.1},
{"sim":"B","res":"Glu75","chi":"χ₂","kind":"traj","seg":0,"i":5,"x":-0.407,"y":0.194},
{"sim":"B","res":"Glu75","chi":"χ₂","kind":"traj","seg":0,"i":6,"x":-0.484,"y":0.295},
{"sim":"B","res":"Glu75","chi":"χ₂","kind":"traj","seg":0,"i":7,"x":-0.64,"y":0.333},
{"sim":"B","res":"Glu75","chi":"χ₂","kind":"traj","seg":0,"i":8,"x":-0.818,"y":0.318},
{"sim":"B","res":"Glu75","chi":"χ₂","kind":"traj","seg":0,"i":9,"x":-0.91,"y":0.217},
{"sim":"B","res":"Glu75","chi":"χ₂","kind":"traj","seg":0,"i":10,"x":-0.94,"y":0.023},
{"sim":"B","res":"Glu75","chi":"χ₂","kind":"traj","seg":0,"i":11,"x":-0.94,"y":-0.1},

{"sim":"B","res":"Glu75","chi":"χ₃","kind":"ring"},
{"sim":"B","res":"Glu75","chi":"χ₃","kind":"ref","i":0,"x":0,"y":0},
{"sim":"B","res":"Glu75","chi":"χ₃","kind":"ref","i":1,"x":0.864,"y":0.503},
{"sim":"B","res":"Glu75","chi":"χ₃","kind":"traj","seg":0,"i":0,"x":0,"y":0},
{"sim":"B","res":"Glu75","chi":"χ₃","kind":"traj","seg":0,"i":1,"x":-0.1,"y":-0.1},
{"sim":"B","res":"Glu75","chi":"χ₃","kind":"traj","seg":0,"i":2,"x":-0.14,"y":-0.22},
{"sim":"B","res":"Glu75","chi":"χ₃","kind":"traj","seg":0,"i":3,"x":-0.03,"y":-0.27},
{"sim":"B","res":"Glu75","chi":"χ₃","kind":"traj","seg":0,"i":4,"x":0.14,"y":-0.21},
{"sim":"B","res":"Glu75","chi":"χ₃","kind":"traj","seg":0,"i":5,"x":0.28,"y":-0.07},
{"sim":"B","res":"Glu75","chi":"χ₃","kind":"traj","seg":0,"i":6,"x":0.32,"y":0.1},
{"sim":"B","res":"Glu75","chi":"χ₃","kind":"traj","seg":0,"i":7,"x":0.22,"y":0.22},
{"sim":"B","res":"Glu75","chi":"χ₃","kind":"traj","seg":0,"i":8,"x":0.08,"y":0.24},
{"sim":"B","res":"Glu75","chi":"χ₃","kind":"traj","seg":0,"i":9,"x":-0.02,"y":0.2},
{"sim":"B","res":"Glu75","chi":"χ₃","kind":"traj","seg":1,"i":0,"x":-0.096,"y":0.542},
{"sim":"B","res":"Glu75","chi":"χ₃","kind":"traj","seg":1,"i":1,"x":-0.354,"y":0.421},
{"sim":"B","res":"Glu75","chi":"χ₃","kind":"traj","seg":1,"i":2,"x":-0.517,"y":0.188},
{"sim":"B","res":"Glu75","chi":"χ₃","kind":"traj","seg":1,"i":3,"x":-0.542,"y":-0.096},
{"sim":"B","res":"Glu75","chi":"χ₃","kind":"traj","seg":1,"i":4,"x":-0.421,"y":-0.354},
{"sim":"B","res":"Glu75","chi":"χ₃","kind":"traj","seg":1,"i":5,"x":-0.275,"y":-0.476},
{"sim":"B","res":"Glu75","chi":"χ₃","kind":"traj","seg":1,"i":6,"x":-0.35,"y":-0.606},
{"sim":"B","res":"Glu75","chi":"χ₃","kind":"traj","seg":1,"i":7,"x":-0.606,"y":-0.35},
{"sim":"B","res":"Glu75","chi":"χ₃","kind":"traj","seg":1,"i":8,"x":-0.7,"y":0},
{"sim":"B","res":"Glu75","chi":"χ₃","kind":"traj","seg":1,"i":9,"x":-0.606,"y":0.35},
{"sim":"B","res":"Glu75","chi":"χ₃","kind":"traj","seg":1,"i":10,"x":-0.35,"y":0.606},
{"sim":"B","res":"Glu75","chi":"χ₃","kind":"traj","seg":1,"i":11,"x":-0.122,"y":0.689},
{"sim":"B","res":"Glu75","chi":"χ₃","kind":"traj","seg":1,"i":12,"x":-0.071,"y":0.817},
{"sim":"B","res":"Glu75","chi":"χ₃","kind":"traj","seg":1,"i":13,"x":-0.41,"y":0.71},
{"sim":"B","res":"Glu75","chi":"χ₃","kind":"traj","seg":1,"i":14,"x":-0.71,"y":0.41},
{"sim":"B","res":"Glu75","chi":"χ₃","kind":"traj","seg":1,"i":15,"x":-0.82,"y":0},
{"sim":"B","res":"Glu75","chi":"χ₃","kind":"traj","seg":1,"i":16,"x":-0.71,"y":-0.41},
{"sim":"B","res":"Glu75","chi":"χ₃","kind":"traj","seg":1,"i":17,"x":-0.47,"y":-0.672},
{"sim":"B","res":"Glu75","chi":"χ₃","kind":"traj","seg":1,"i":18,"x":-0.28,"y":-0.77}
]},
"spacing":82,
"hconcat":[
{"transform":[{"filter":"datum.sim==='A'"}],
 "facet":{
  "row":{"field":"res","type":"nominal","sort":["Thr49","Val55","Glu69","Glu75"],"header":{"title":null,"labelAngle":0,"labelPadding":-27}},
  "column":{"field":"chi","type":"nominal","sort":"ascending","header":{"title":null,"labelPadding":10}}},
 "spacing":{"row":14,"column":35},
 "spec":{"width":90,"height":90,"layer":[
  {"transform":[{"filter":"datum.kind==='ring'"}],"mark":{"type":"point","shape":"circle","size":7396,"filled":false,"stroke":"#111","strokeWidth":2.6,"opacity":1},
   "encoding":{"x":{"datum":0,"type":"quantitative","scale":{"domain":[-1.05,1.05],"nice":false,"zero":false},"axis":null},"y":{"datum":0,"type":"quantitative","scale":{"domain":[-1.05,1.05],"nice":false,"zero":false},"axis":null}}},
  {"transform":[{"filter":"datum.kind==='ref'"}],"mark":{"type":"line","color":"#e0202a","strokeWidth":2},
   "encoding":{"x":{"field":"x","type":"quantitative"},"y":{"field":"y","type":"quantitative"},"order":{"field":"i","type":"quantitative"}}},
  {"transform":[{"filter":"datum.kind==='traj'"}],"mark":{"type":"line","color":"#283c9c","strokeWidth":2,"interpolate":"catmull-rom"},
   "encoding":{"x":{"field":"x","type":"quantitative"},"y":{"field":"y","type":"quantitative"},"detail":{"field":"seg","type":"nominal"},"order":{"field":"i","type":"quantitative"}}}
 ]}},
{"transform":[{"filter":"datum.sim==='B'"}],
 "facet":{
  "row":{"field":"res","type":"nominal","sort":["Thr49","Val55","Glu69","Glu75"],"header":{"title":null,"labels":false}},
  "column":{"field":"chi","type":"nominal","sort":"ascending","header":{"title":null,"labelPadding":10}}},
 "spacing":{"row":14,"column":35},
 "spec":{"width":90,"height":90,"layer":[
  {"transform":[{"filter":"datum.kind==='ring'"}],"mark":{"type":"point","shape":"circle","size":7396,"filled":false,"stroke":"#111","strokeWidth":2.6,"opacity":1},
   "encoding":{"x":{"datum":0,"type":"quantitative","scale":{"domain":[-1.05,1.05],"nice":false,"zero":false},"axis":null},"y":{"datum":0,"type":"quantitative","scale":{"domain":[-1.05,1.05],"nice":false,"zero":false},"axis":null}}},
  {"transform":[{"filter":"datum.kind==='ref'"}],"mark":{"type":"line","color":"#e0202a","strokeWidth":2},
   "encoding":{"x":{"field":"x","type":"quantitative"},"y":{"field":"y","type":"quantitative"},"order":{"field":"i","type":"quantitative"}}},
  {"transform":[{"filter":"datum.kind==='traj'"}],"mark":{"type":"line","color":"#283c9c","strokeWidth":2,"interpolate":"catmull-rom"},
   "encoding":{"x":{"field":"x","type":"quantitative"},"y":{"field":"y","type":"quantitative"},"detail":{"field":"seg","type":"nominal"},"order":{"field":"i","type":"quantitative"}}}
 ]}}
]
}
